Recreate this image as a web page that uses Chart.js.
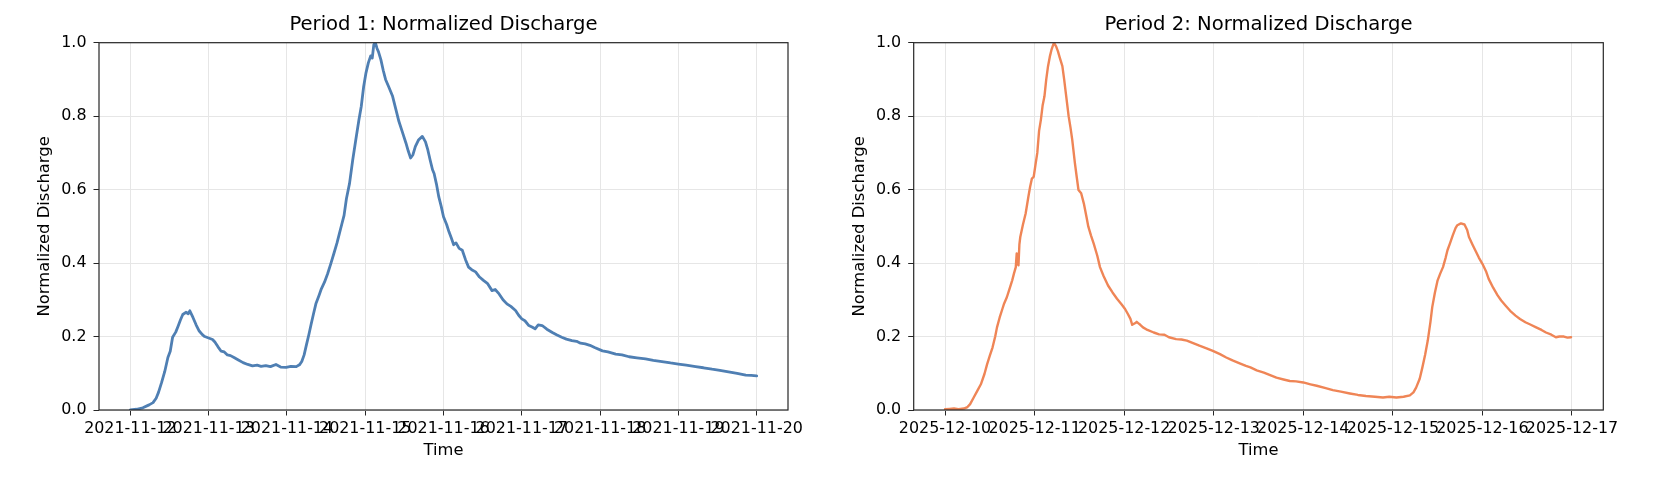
<!DOCTYPE html>
<html>
<head>
<meta charset="utf-8">
<title>Normalized Discharge</title>
<script src="https://cdn.jsdelivr.net/npm/chart.js@4.4.0/dist/chart.umd.min.js"></script>
<style>
  html, body { margin: 0; padding: 0; background: #fff; }
  body { width: 1660px; height: 492px; position: relative; overflow: hidden; }
  .box { position: absolute; top: 0; height: 492px; }
</style>
</head>
<body>
<div class="box" style="left:0; width:830px;"><canvas id="chart1"></canvas></div>
<div class="box" style="left:830px; width:830px;"><canvas id="chart2"></canvas></div>
<script>
// Data -------------------------------------->

// x = days since the first tick label
const p1TickLabels = ['2021-11-12', '2021-11-13', '2021-11-14', '2021-11-15', '2021-11-16',
  '2021-11-17', '2021-11-18', '2021-11-19', '2021-11-20'];
const p2TickLabels = ['2025-12-10', '2025-12-11', '2025-12-12', '2025-12-13', '2025-12-14',
  '2025-12-15', '2025-12-16', '2025-12-17'];
const yTicks = [0, 0.2, 0.4, 0.6, 0.8, 1.0];

const p1Days = [0.00, 0.08, 0.16, 0.24, 0.29, 0.33, 0.36, 0.40, 0.44, 0.48, 0.51, 0.54, 0.58, 0.61, 0.64,
  0.67, 0.71, 0.74, 0.76, 0.80, 0.84, 0.88, 0.92, 0.95, 1.00, 1.05, 1.08, 1.12, 1.16, 1.20, 1.24, 1.28,
  1.33, 1.38, 1.44, 1.50, 1.56, 1.62, 1.67, 1.73, 1.79, 1.86, 1.92, 1.99, 2.05, 2.12, 2.16, 2.19, 2.22,
  2.25, 2.28, 2.31, 2.34, 2.37, 2.41, 2.44, 2.48, 2.52, 2.56, 2.60, 2.64, 2.67, 2.70, 2.73, 2.76, 2.80,
  2.84, 2.88, 2.92, 2.95, 2.98, 3.01, 3.04, 3.07, 3.09, 3.11, 3.13, 3.15, 3.17, 3.20, 3.23, 3.26, 3.30,
  3.35, 3.39, 3.43, 3.47, 3.52, 3.55, 3.58, 3.61, 3.64, 3.68, 3.73, 3.77, 3.80, 3.83, 3.86, 3.88, 3.91,
  3.94, 3.97, 4.00, 4.04, 4.07, 4.10, 4.13, 4.16, 4.20, 4.24, 4.28, 4.32, 4.36, 4.41, 4.46, 4.51, 4.56,
  4.62, 4.66, 4.71, 4.76, 4.81, 4.86, 4.92, 4.96, 5.00, 5.04, 5.09, 5.13, 5.17, 5.21, 5.26, 5.32, 5.39,
  5.45, 5.51, 5.57, 5.64, 5.70, 5.75, 5.81, 5.87, 5.93, 6.03, 6.10, 6.20, 6.28, 6.37, 6.47, 6.58, 6.68,
  6.79, 6.90, 7.00, 7.10, 7.22, 7.32, 7.43, 7.53, 7.64, 7.75, 7.86, 7.93, 8.00];
const p1Values = [0.000, 0.002, 0.006, 0.014, 0.020, 0.032, 0.048, 0.075, 0.105, 0.143, 0.160, 0.198,
  0.212, 0.228, 0.245, 0.260, 0.266, 0.262, 0.270, 0.252, 0.232, 0.215, 0.205, 0.200, 0.196, 0.192,
  0.185, 0.172, 0.160, 0.158, 0.150, 0.148, 0.142, 0.136, 0.129, 0.124, 0.120, 0.122, 0.119, 0.121,
  0.118, 0.124, 0.117, 0.116, 0.119, 0.118, 0.123, 0.132, 0.150, 0.178, 0.205, 0.234, 0.262, 0.289,
  0.312, 0.330, 0.348, 0.371, 0.398, 0.426, 0.455, 0.480, 0.505, 0.530, 0.575, 0.617, 0.680, 0.736,
  0.790, 0.827, 0.880, 0.918, 0.945, 0.964, 0.958, 0.995, 1.000, 0.985, 0.975, 0.954, 0.925, 0.900,
  0.880, 0.854, 0.820, 0.786, 0.760, 0.727, 0.705, 0.686, 0.695, 0.717, 0.735, 0.745, 0.730, 0.708,
  0.680, 0.654, 0.644, 0.615, 0.580, 0.555, 0.526, 0.505, 0.485, 0.468, 0.450, 0.455, 0.440, 0.435,
  0.410, 0.389, 0.382, 0.376, 0.362, 0.353, 0.345, 0.325, 0.328, 0.316, 0.300, 0.289, 0.282, 0.271,
  0.258, 0.248, 0.243, 0.230, 0.226, 0.221, 0.232, 0.230, 0.220, 0.211, 0.204, 0.198, 0.193, 0.189,
  0.187, 0.182, 0.180, 0.176, 0.170, 0.161, 0.158, 0.152, 0.150, 0.145, 0.142, 0.139, 0.135, 0.132,
  0.128, 0.125, 0.122, 0.118, 0.115, 0.111, 0.108, 0.104, 0.100, 0.095, 0.094, 0.093];

const p2Days = [0.00, 0.05, 0.10, 0.15, 0.21, 0.25, 0.28, 0.32, 0.36, 0.40, 0.44, 0.47, 0.50, 0.53, 0.56,
  0.58, 0.61, 0.64, 0.66, 0.69, 0.72, 0.75, 0.77, 0.79, 0.80, 0.81, 0.82, 0.83, 0.84, 0.87, 0.90, 0.93,
  0.95, 0.97, 0.99, 1.01, 1.03, 1.05, 1.07, 1.09, 1.11, 1.13, 1.15, 1.17, 1.19, 1.21, 1.22, 1.24, 1.26,
  1.28, 1.31, 1.33, 1.35, 1.38, 1.40, 1.42, 1.45, 1.47, 1.49, 1.52, 1.55, 1.58, 1.60, 1.63, 1.66, 1.70,
  1.73, 1.77, 1.82, 1.87, 1.92, 1.97, 2.01, 2.04, 2.07, 2.09, 2.12, 2.14, 2.16, 2.18, 2.21, 2.26, 2.33,
  2.39, 2.45, 2.50, 2.58, 2.64, 2.70, 2.77, 2.84, 2.92, 2.99, 3.07, 3.14, 3.21, 3.29, 3.36, 3.41, 3.48,
  3.56, 3.63, 3.70, 3.78, 3.85, 3.92, 4.00, 4.08, 4.15, 4.24, 4.33, 4.42, 4.52, 4.61, 4.70, 4.80, 4.89,
  4.96, 5.04, 5.12, 5.19, 5.23, 5.26, 5.30, 5.33, 5.36, 5.39, 5.42, 5.44, 5.47, 5.50, 5.53, 5.56, 5.59,
  5.61, 5.64, 5.67, 5.70, 5.72, 5.76, 5.80, 5.83, 5.85, 5.89, 5.93, 5.96, 6.00, 6.04, 6.07, 6.12, 6.17,
  6.21, 6.26, 6.31, 6.37, 6.42, 6.48, 6.54, 6.60, 6.66, 6.71, 6.77, 6.82, 6.86, 6.91, 6.95, 6.99];
const p2Values = [0.002, 0.003, 0.004, 0.002, 0.004, 0.008, 0.016, 0.034, 0.052, 0.070, 0.098, 0.125,
  0.148, 0.170, 0.200, 0.225, 0.252, 0.275, 0.290, 0.307, 0.330, 0.353, 0.372, 0.389, 0.426, 0.400,
  0.394, 0.450, 0.471, 0.505, 0.535, 0.580, 0.608, 0.630, 0.635, 0.668, 0.700, 0.760, 0.790, 0.830,
  0.854, 0.900, 0.936, 0.962, 0.982, 0.996, 0.998, 0.990, 0.977, 0.960, 0.936, 0.900, 0.860, 0.800,
  0.770, 0.736, 0.672, 0.635, 0.599, 0.590, 0.562, 0.525, 0.499, 0.475, 0.453, 0.420, 0.389, 0.365,
  0.339, 0.320, 0.303, 0.288, 0.275, 0.262, 0.248, 0.232, 0.236, 0.240, 0.236, 0.232, 0.225, 0.218,
  0.211, 0.206, 0.205, 0.198, 0.193, 0.192, 0.189, 0.182, 0.175, 0.168, 0.161, 0.152, 0.143, 0.135,
  0.127, 0.120, 0.116, 0.108, 0.102, 0.095, 0.088, 0.083, 0.079, 0.078, 0.075, 0.070, 0.066, 0.060,
  0.054, 0.050, 0.045, 0.041, 0.038, 0.036, 0.034, 0.036, 0.034, 0.036, 0.040, 0.048, 0.061, 0.085,
  0.116, 0.150, 0.189, 0.240, 0.280, 0.320, 0.353, 0.372, 0.389, 0.415, 0.435, 0.455, 0.476, 0.495,
  0.503, 0.508, 0.505, 0.490, 0.471, 0.450, 0.430, 0.415, 0.398, 0.378, 0.357, 0.333, 0.312, 0.298,
  0.284, 0.270, 0.257, 0.248, 0.239, 0.232, 0.225, 0.218, 0.211, 0.205, 0.198, 0.200, 0.200, 0.197,
  0.198];

// Shared bits -------------------------------------->

const FONT = 'DejaVu Sans';
const GRID = '#e6e6e6';

// draw the full box around the plot, like matplotlib spines
const framePlugin = {
  id: 'frame',
  afterDatasetsDraw(chart) {
    const a = chart.chartArea;
    const ctx = chart.ctx;
    ctx.save();
    ctx.strokeStyle = '#262626';
    ctx.lineWidth = 1.2;
    ctx.strokeRect(a.left, a.top, a.right - a.left, a.bottom - a.top);
    ctx.restore();
  }
};

// title centred over the plot area (the built-in one centres over the canvas)
const plotTitlePlugin = {
  id: 'plotTitle',
  afterDraw(chart, args, opts) {
    const a = chart.chartArea;
    const ctx = chart.ctx;
    ctx.save();
    ctx.fillStyle = '#000';
    ctx.font = '19.6px "' + FONT + '"';
    ctx.textAlign = 'center';
    ctx.textBaseline = 'alphabetic';
    ctx.fillText(opts.text, (a.left + a.right) / 2, a.top - 13);
    ctx.restore();
  }
};

function makeChart(id, title, days, values, tickLabels, color, lineWidth, yWidth, yTitlePad, padRight) {
  const points = days.map((d, i) => ({x: d, y: values[i]}));
  const span = tickLabels.length - 1;
  const margin = span * 0.05;

  return new Chart(document.getElementById(id), {
    type: 'line',
    data: {
      datasets: [{
        data: points,
        borderColor: color,
        borderWidth: lineWidth,
        pointRadius: 0,
        tension: 0,
        borderJoinStyle: 'round',
        borderCapStyle: 'round',
      }]
    },
    plugins: [framePlugin, plotTitlePlugin],
    options: {
      responsive: true,
      maintainAspectRatio: false,
      animation: false,
      layout: { padding: { left: 0, right: padRight, top: 42.7, bottom: 0 } },
      plugins: {
        legend: { display: false },
        tooltip: { enabled: false },
        title: { display: false },
        plotTitle: { text: title }
      },
      scales: {
        x: {
          type: 'linear',
          min: -margin,
          max: span + margin,
          afterFit(scale) { scale.height = 82; },
          border: { display: false },
          grid: { color: GRID, lineWidth: 1, tickLength: 5.5, tickColor: '#262626', drawTicks: true },
          ticks: {
            stepSize: 1,
            includeBounds: false,
            autoSkip: false,
            maxRotation: 0,
            minRotation: 0,
            padding: 4,
            color: '#000',
            font: { family: FONT, size: 15.9 },
            callback: (v) => Number.isInteger(v) ? tickLabels[v] : ''
          },
          title: {
            display: true,
            text: 'Time',
            color: '#000',
            font: { family: FONT, size: 16.3 },
            padding: { top: 0, bottom: 31 }
          }
        },
        y: {
          min: 0,
          max: 1,
          afterFit(scale) { scale.width = yWidth; },
          afterBuildTicks(scale) { scale.ticks = yTicks.map(v => ({value: v})); },
          border: { display: false },
          grid: { color: GRID, lineWidth: 1, tickLength: 5.5, tickColor: '#262626', drawTicks: true },
          ticks: {
            padding: 7,
            color: '#000',
            font: { family: FONT, size: 15.9 },
            callback: (v) => v.toFixed(1)
          },
          title: {
            display: true,
            text: 'Normalized Discharge',
            color: '#000',
            font: { family: FONT, size: 16.4 },
            padding: { top: yTitlePad, bottom: 0 }
          }
        }
      }
    }
  });
}

// Charts -------------------------------------->

makeChart('chart1', 'Period 1: Normalized Discharge', p1Days, p1Values, p1TickLabels,
  '#4f7fb3', 2.8, 99, 35.2, 42);
makeChart('chart2', 'Period 2: Normalized Discharge', p2Days, p2Values, p2TickLabels,
  '#ef8556', 2.4, 83.7, 20.2, 56.7);
</script>
</body>
</html>
